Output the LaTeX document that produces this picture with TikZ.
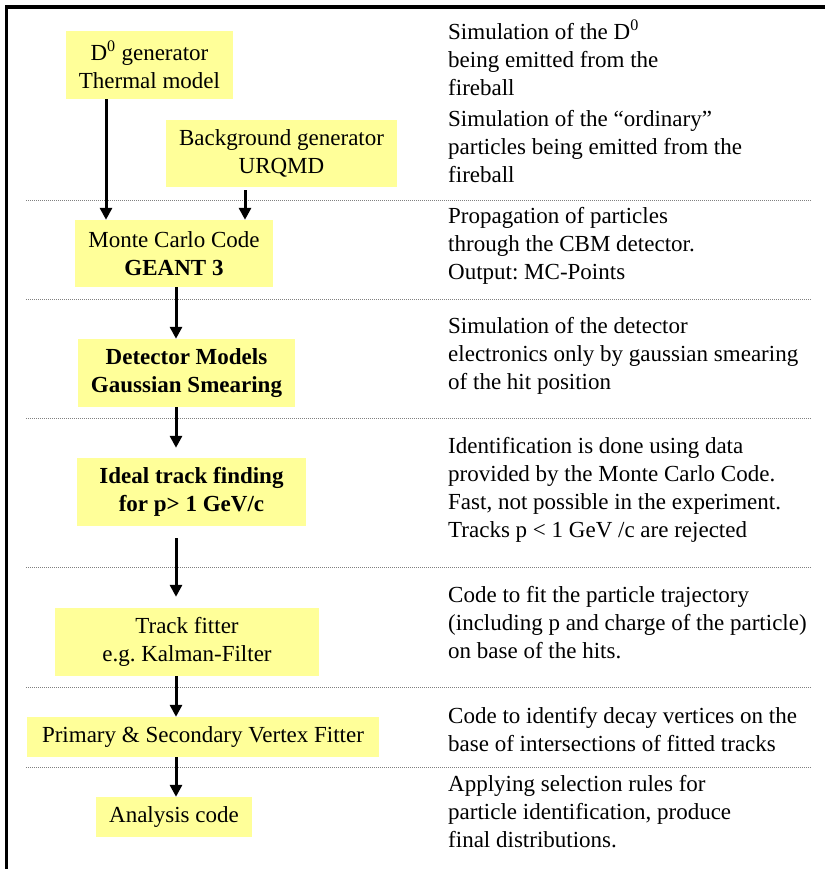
\documentclass[tikz,border=0pt]{standalone}
\usepackage{fontspec}
\setmainfont{Liberation Serif}
\usetikzlibrary{arrows.meta}
\definecolor{stageyellow}{RGB}{255,255,153}
\frenchspacing

\begin{document}
\begin{tikzpicture}[x=1pt, y=-1pt,
  every node/.style={font=\fontsize{23}{27.8}\selectfont},
  stage/.style={fill=stageyellow, inner sep=0pt, align=center},
  note/.style={anchor=north west, inner sep=0pt, align=left, execute at begin node=\strut},
  flow/.style={line width=3pt, -{Triangle[length=12pt,width=12pt]}},
  sepline/.style={gray, line width=0.8pt, dash pattern=on 1pt off 1pt}]
  \useasboundingbox (0,0) rectangle (825,869);

  % frame and separators
  \draw[line width=3.5pt] (6.5,869) -- (6.5,7) -- (825,7);
  \foreach \y in {200,299,418,567,687,767}
    \draw[sepline] (26,\y) -- (812,\y);

  % stages of the chain
  \node[stage, minimum width=167pt, minimum height=68pt] (d0) at (149.5,65) {D\textsuperscript{0} generator\\Thermal model};
  \node[stage, minimum width=231pt, minimum height=67pt] (bg) at (281.5,153.5) {Background generator\\URQMD};
  \node[stage, minimum width=198pt, minimum height=67pt] (mc) at (174,253.5) {Monte Carlo Code\\\textbf{GEANT 3}};
  \node[stage, minimum width=217pt, minimum height=68pt, font=\fontsize{23}{27.8}\selectfont\bfseries] (det) at (186.5,373) {Detector Models\\Gaussian Smearing};
  \node[stage, minimum width=229pt, minimum height=68pt, font=\fontsize{23}{27.8}\selectfont\bfseries] (ideal) at (191.5,492) {Ideal track finding\\for p> 1 GeV/c};
  \node[stage, minimum width=264pt, minimum height=68pt] (track) at (187,642) {Track fitter\\e.g. Kalman-Filter};
  \node[stage, minimum width=352pt, minimum height=40pt] (prim) at (203,737) {Primary \& Secondary Vertex Fitter};
  \node[stage, minimum width=156pt, minimum height=40pt] (ana) at (174,817) {Analysis code};

  \coordinate (spine) at (176,0);
  \draw[flow] ([xshift=-43.5pt]d0.south) -- ([xshift=-43.5pt]d0.south |- mc.north);
  \draw[flow, shorten <=3pt] ([xshift=-36.5pt]bg.south) -- ([xshift=-36.5pt]bg.south |- mc.north);
  \draw[flow] (mc.south -| spine) -- (det.north -| spine);
  \draw[flow, shorten >=10pt] (det.south -| spine) -- (ideal.north -| spine);
  \draw[flow, shorten <=12pt, shorten >=11pt] (ideal.south -| spine) -- (track.north -| spine);
  \draw[flow] (track.south -| spine) -- (prim.north -| spine);
  \draw[flow] (prim.south -| spine) -- (ana.north -| spine);

  % explanations
  \node[note] (n1) at (448,19.5) {Simulation of the D\textsuperscript{0}\\being emitted from the\\fireball};
  \node[note] (n2) at (448,110.5) {Simulation of the “ordinary”\\particles being emitted from the\\fireball};
  \node[note] (n3) at (448,207.5) {Propagation of particles\\through the CBM detector.\\Output: MC-Points};
  \node[note] (n4) at (448,317.5) {Simulation of the detector\\electronics only by gaussian smearing\\of the hit position};
  \node[note] (n5) at (448,437.5) {Identification is done using data\\provided by the Monte Carlo Code.\\Fast, not possible in the experiment.\\Tracks p < 1 GeV /c are rejected};
  \node[note] (n6) at (448,586.5) {Code to fit the particle trajectory\\(including p and charge of the particle)\\on base of the hits.};
  \node[note] (n7) at (448,707.5) {Code to identify decay vertices on the\\base of intersections of fitted tracks};
  \node[note] (n8) at (448,775.5) {Applying selection rules for\\particle identification, produce\\final distributions.};
\end{tikzpicture}
\end{document}
